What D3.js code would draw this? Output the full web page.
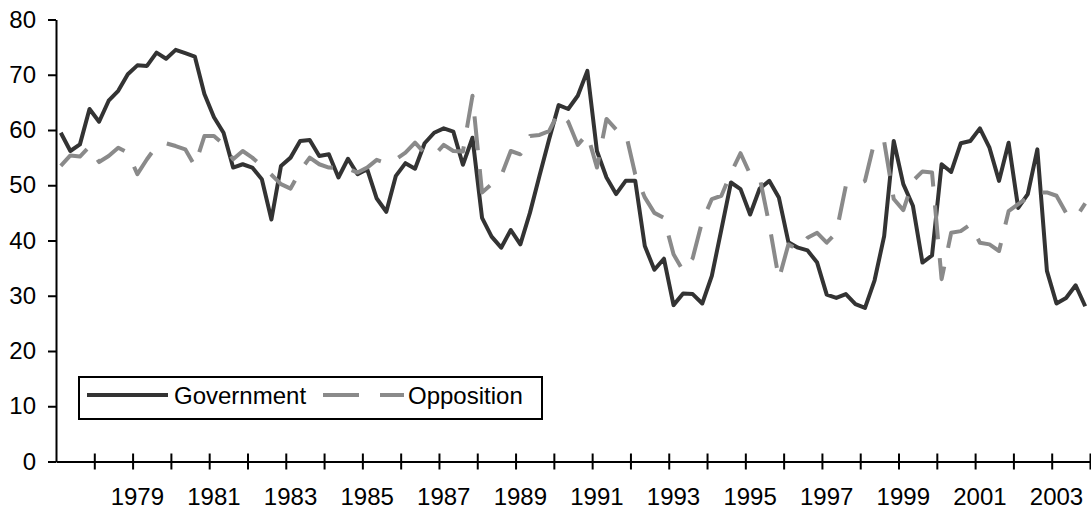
<!DOCTYPE html>
<html>
<head>
<meta charset="utf-8">
<script src="https://cdn.jsdelivr.net/npm/d3@7"></script>
<style>
  body { margin: 0; background: #fff; }
  svg { display: block; }
  text { font-family: Arial, "Liberation Sans", sans-serif; fill: #000; }
</style>
</head>
<body>
<svg width="1091" height="514"></svg>
<script>
// quarterly series, 1977 Q1 .. 2003 Q4
const startYear = 1977;
const endYear = 2004;

const government = [
  59.5, 56.2, 57.4, 63.8, 61.5, 65.3, 67.1, 70.1, 71.7, 71.6,
  74.0, 72.9, 74.5, 73.9, 73.3, 66.5, 62.3, 59.5, 53.2, 53.8,
  53.2, 51.1, 43.8, 53.5, 55.0, 58.0, 58.2, 55.3, 55.6, 51.4,
  54.8, 52.0, 52.9, 47.6, 45.2, 51.7, 54.0, 53.0, 57.6, 59.5,
  60.3, 59.7, 53.7, 58.6, 44.1, 40.7, 38.7, 41.9, 39.3, 45.0,
  51.7, 58.3, 64.5, 63.8, 66.2, 70.7, 56.2, 51.4, 48.4, 50.8,
  50.8, 39.0, 34.7, 36.7, 28.3, 30.4, 30.3, 28.6, 33.6, 42.0,
  50.5, 49.3, 44.7, 49.4, 50.8, 47.8, 39.7, 38.7, 38.2, 36.0,
  30.2, 29.6, 30.3, 28.5, 27.8, 32.8, 40.8, 58.0, 50.2, 46.3,
  36.0, 37.3, 53.8, 52.4, 57.6, 58.0, 60.3, 56.8, 50.8, 57.7,
  45.9, 48.4, 56.5, 34.5, 28.6, 29.6, 31.9, 28.1
];

const opposition = [
  53.5, 55.4, 55.2, 57.0, 54.2, 55.3, 56.8, 55.9, 52.0, 54.7,
  57.1, 57.6, 57.1, 56.5, 53.5, 58.9, 58.9, 57.4, 54.7, 56.2,
  55.0, 53.5, 51.9, 50.2, 49.4, 52.6, 55.0, 53.8, 53.2, 53.1,
  53.0, 52.3, 53.2, 54.6, 54.0, 54.7, 55.9, 57.7, 55.8, 55.4,
  57.3, 56.2, 56.1, 66.2, 48.7, 50.2, 51.7, 56.2, 55.6, 58.9,
  59.1, 59.8, 63.2, 61.5, 57.3, 59.3, 53.2, 62.0, 60.1, 59.5,
  52.0, 47.8, 45.0, 44.1, 37.5, 34.5, 36.8, 43.5, 47.5, 48.1,
  52.2, 55.8, 52.0, 51.4, 42.9, 33.0, 39.3, 38.4, 40.5, 41.4,
  39.6, 41.4, 49.9, 50.0, 50.8, 58.0, 57.9, 47.5, 45.5, 50.8,
  52.5, 52.3, 33.0, 41.4, 41.7, 42.9, 39.6, 39.3, 38.1, 45.3,
  46.6, 47.8, 48.7, 48.7, 48.1, 45.0, 44.1, 46.7
];

const yearLabels = ['1979', '1981', '1983', '1985', '1987', '1989', '1991',
  '1993', '1995', '1997', '1999', '2001', '2003'];
const yTicks = [0, 10, 20, 30, 40, 50, 60, 70, 80];

const svg = d3.select('svg');

const plotLeft = 56;
const plotRight = 1090;
const plotTop = 19.5;
const plotBottom = 461.5;
const fontSize = '24px';

const x = d3.scaleLinear().domain([startYear, endYear]).range([plotLeft, plotRight]);
const y = d3.scaleLinear().domain([0, 80]).range([plotBottom, plotTop]);

// quarter i sits in the middle of its slot
const qx = i => x(startYear + (i + 0.5) / 4);

// y axis
const yAxis = svg.append('g')
  .attr('transform', `translate(${plotLeft},0)`)
  .call(d3.axisLeft(y).tickValues(yTicks).tickSize(8).tickPadding(12).tickSizeOuter(0));
yAxis.select('.domain').attr('stroke', '#000').attr('stroke-width', 2);
yAxis.selectAll('.tick line').attr('stroke', '#000').attr('stroke-width', 2);
yAxis.selectAll('.tick text').style('font-size', fontSize).attr('fill', '#000');

// x axis: ticks at every year boundary, crossing the line
const xAxis = svg.append('g')
  .attr('transform', `translate(0,${plotBottom})`)
  .call(d3.axisBottom(x).tickValues(d3.range(startYear + 1, endYear + 1)).tickSize(8).tickFormat('').tickSizeOuter(0));
xAxis.select('.domain').attr('stroke', '#000').attr('stroke-width', 2);
xAxis.selectAll('.tick line')
  .attr('stroke', '#000')
  .attr('stroke-width', 2)
  .attr('y1', -8)
  .attr('y2', 8);

// year labels centred on the first quarter of each odd year
svg.append('g').selectAll('text')
  .data(yearLabels)
  .join('text')
  .attr('x', d => x(+d + 0.125))
  .attr('y', 505)
  .attr('text-anchor', 'middle')
  .style('font-size', fontSize)
  .text(d => d);

const line = d3.line()
  .x((d, i) => qx(i))
  .y(d => y(d));

svg.append('path')
  .datum(government)
  .attr('d', line)
  .attr('fill', 'none')
  .attr('stroke', '#333333')
  .attr('stroke-width', 4)
  .attr('stroke-linejoin', 'round');

svg.append('path')
  .datum(opposition)
  .attr('d', line)
  .attr('fill', 'none')
  .attr('stroke', '#8a8a8a')
  .attr('stroke-width', 4)
  .attr('stroke-dasharray', '34,19')
  .attr('stroke-linejoin', 'round');

// legend
const legend = svg.append('g');
legend.append('rect')
  .attr('x', 79).attr('y', 377)
  .attr('width', 463).attr('height', 42)
  .attr('fill', '#fff')
  .attr('stroke', '#000')
  .attr('stroke-width', 2);

legend.append('line')
  .attr('x1', 87).attr('x2', 168)
  .attr('y1', 395).attr('y2', 395)
  .attr('stroke', '#333333').attr('stroke-width', 4);
legend.append('text')
  .attr('x', 174).attr('y', 404)
  .style('font-size', fontSize)
  .text('Government');

legend.append('line')
  .attr('x1', 323).attr('x2', 404)
  .attr('y1', 395).attr('y2', 395)
  .attr('stroke', '#8a8a8a').attr('stroke-width', 4)
  .attr('stroke-dasharray', '36,21');
legend.append('text')
  .attr('x', 408).attr('y', 404)
  .style('font-size', fontSize)
  .text('Opposition');
</script>
</body>
</html>
